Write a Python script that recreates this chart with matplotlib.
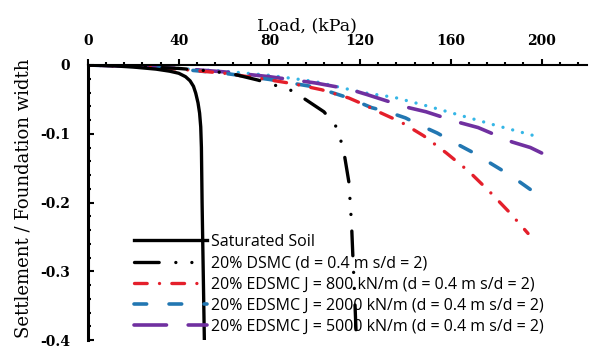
import matplotlib
matplotlib.use('Agg')
import matplotlib.pyplot as plt
from matplotlib.ticker import MultipleLocator

# Saturated soil
sat_load = [0, 10, 20, 30, 36, 40, 43, 45, 46.5, 47.5, 48.5, 49.2, 49.7, 50, 50.3, 50.8, 51.3]
sat_settle = [0, -0.001, -0.003, -0.006, -0.009, -0.012, -0.017, -0.023, -0.031, -0.041, -0.055,
              -0.07, -0.09, -0.12, -0.2, -0.3, -0.4]

# 20% DSMC
dsmc_load = [0, 20, 40, 55, 65, 75, 82, 89, 94, 104, 109, 111.4, 113, 115, 115.8, 116.3, 116.8, 117.5, 118.2]
dsmc_settle = [0, -0.002, -0.005, -0.009, -0.014, -0.022, -0.029, -0.036, -0.046, -0.068, -0.087, -0.109,
               -0.13, -0.17, -0.21, -0.24, -0.28, -0.33, -0.39]

# 20% EDSMC J = 800
j800_load = [0, 20, 40, 60, 75, 90, 103, 115, 122, 128, 138, 148, 158, 168, 177, 186, 194]
j800_settle = [0, -0.002, -0.006, -0.012, -0.019, -0.027, -0.036, -0.048, -0.058, -0.068, -0.083,
               -0.103, -0.128, -0.155, -0.184, -0.215, -0.245]

# 20% EDSMC J = 2000
j2000_load = [0, 20, 40, 60, 80, 100, 115, 125, 132, 140, 146, 154, 161, 169, 175, 182, 189, 195, 200]
j2000_settle = [0, -0.002, -0.006, -0.012, -0.021, -0.032, -0.048, -0.062, -0.068, -0.077, -0.087,
                -0.099, -0.112, -0.126, -0.138, -0.152, -0.167, -0.181, -0.192]

# 20% EDSMC J = 5000
j5000_load = [0, 20, 40, 60, 80, 100, 115, 123, 140, 149, 163, 172, 187, 195, 200]
j5000_settle = [0, -0.002, -0.005, -0.01, -0.017, -0.026, -0.035, -0.043, -0.061, -0.068, -0.083,
                -0.091, -0.112, -0.12, -0.128]

# extra dotted curve (not in legend)
dot_load = [0, 20, 40, 60, 80, 100, 121, 135, 150, 165, 180, 198]
dot_settle = [0, -0.002, -0.005, -0.009, -0.015, -0.024, -0.04, -0.047, -0.06, -0.074, -0.088, -0.104]

labels = ['Saturated Soil',
          '20% DSMC (d = 0.4 m s/d = 2)',
          '20% EDSMC J = 800 kN/m (d = 0.4 m s/d = 2)',
          '20% EDSMC J = 2000 kN/m (d = 0.4 m s/d = 2)',
          '20% EDSMC J = 5000 kN/m (d = 0.4 m s/d = 2)']
yticks = [0, -0.1, -0.2, -0.3, -0.4]
yticklabels = ['0', '-0.1', '-0.2', '-0.3', '-0.4']

fig = plt.figure(figsize=(5.91, 3.51), dpi=100)
ax = fig.add_axes([88 / 591, 11 / 351, 499 / 591, 275 / 351])

ax.plot(dot_load, dot_settle, color='#35b6e6', lw=2.4, dashes=(0.01, 3),
        dash_capstyle='round', label='_nolegend_')
ax.plot(j5000_load, j5000_settle, color='#7030a0', lw=2.6, dashes=(9, 6),
        dash_capstyle='round', label=labels[4])
ax.plot(j2000_load, j2000_settle, color='#2277b2', lw=2.6, dashes=(3.5, 6.2),
        dash_capstyle='round', label=labels[3])
ax.plot(j800_load, j800_settle, color='#e41f2b', lw=2.4, dashes=(3.8, 3.7, 0.01, 3.7),
        dash_capstyle='round', label=labels[2])
ax.plot(dsmc_load, dsmc_settle, color='black', lw=2.4, dashes=(7.4, 5, 0.01, 4.8, 0.01, 5),
        dash_capstyle='round', label=labels[1])
ax.plot(sat_load, sat_settle, color='black', lw=2.4, label=labels[0])

ax.set_xlim(0, 220)
ax.set_ylim(-0.4, 0)
ax.xaxis.set_ticks_position('top')
ax.xaxis.set_label_position('top')
ax.xaxis.set_major_locator(MultipleLocator(40))
ax.xaxis.set_minor_locator(MultipleLocator(8))
ax.yaxis.set_minor_locator(MultipleLocator(0.02))
ax.set_yticks(yticks)
ax.set_yticklabels(yticklabels)

for s in ['right', 'bottom']:
    ax.spines[s].set_visible(False)
ax.spines['left'].set_linewidth(2.2)
ax.spines['top'].set_linewidth(1.5)

ax.tick_params(axis='x', which='major', direction='out', length=4, width=1.5, pad=8)
ax.tick_params(axis='x', which='minor', direction='out', length=2.5, width=1.5)
ax.tick_params(axis='y', which='major', direction='in', length=4, width=1.5, pad=13)
ax.tick_params(axis='y', which='minor', direction='in', length=2.5, width=1.5)
for t in ax.get_xticklabels() + ax.get_yticklabels():
    t.set_fontfamily('DejaVu Serif')
    t.set_fontweight('bold')
    t.set_fontsize(10)

ax.set_xlabel('Load, (kPa)', fontsize=12.5, family='DejaVu Serif')
ax.xaxis.set_label_coords(0.439, 1.127)
ax.set_ylabel('Settlement / Foundation width', fontsize=13, family='DejaVu Serif')
ax.yaxis.set_label_coords(-0.112, 0.516)

handles, labs = ax.get_legend_handles_labels()
order = [labs.index(l) for l in labels]
leg = ax.legend([handles[i] for i in order], [labs[i] for i in order],
                loc='upper left', bbox_to_anchor=(38 / 499, 0.415), frameon=False,
                prop={'family': 'Open Sans', 'size': 11.5},
                handlelength=4.6, handletextpad=0.25, labelspacing=0.33, borderpad=0)

fig.savefig('out.png', dpi=100, facecolor='white')
